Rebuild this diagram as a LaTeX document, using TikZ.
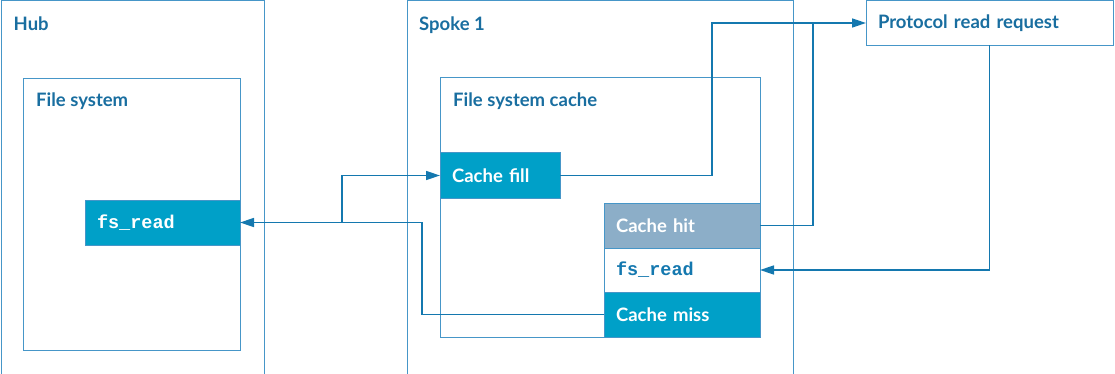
\documentclass[tikz,border=0pt]{standalone}
\usepackage{fontspec}
\setmainfont{Lato}
\setmonofont{Liberation Mono}
\usetikzlibrary{arrows.meta, positioning}

\definecolor{frameblue}{RGB}{70,150,200}
\definecolor{titleblue}{RGB}{25,110,160}
\definecolor{stepfill}{RGB}{0,160,200}
\definecolor{hitfill}{RGB}{140,174,200}
\definecolor{wireblue}{RGB}{20,120,175}

\begin{document}
\begin{tikzpicture}[
        x=1pt, y=-1pt,
        frame/.style = {rectangle, draw=frameblue, line width=1pt, anchor=north west, inner sep=0pt},
        title/.style = {anchor=base west, inner sep=0pt, text=titleblue, font=\fontsize{18.5}{20}\selectfont\bfseries},
        block/.style = {rectangle, draw=frameblue, line width=1pt, fill=stepfill, text=white, anchor=north west, inner xsep=12pt, inner ysep=0pt, outer sep=0pt, align=left, minimum height=45pt, font=\fontsize{18.5}{20}\selectfont\bfseries},
        code/.style = {font=\fontsize{18.5}{20}\selectfont\ttfamily\bfseries},
        wire/.style = {draw=wireblue, line width=1.6pt},
        tip/.style = {-{Triangle[length=14pt, width=9pt]}}
    ]
        \useasboundingbox (0,0) rectangle (1115,374);

        % Hub side
        \node [frame, minimum width=263pt, minimum height=373pt] (hub) at (0.5,0.5) {};
        \node [title] at ([shift={(13,30)}]hub.north west) {Hub};
        \node [frame, minimum width=217pt, minimum height=272pt] (hubfs) at (23,78) {};
        \node [title] at ([shift={(13,29)}]hubfs.north west) {File system};
        \node [block, text width=131pt, code] (hubread) at (85,200) {fs\_read};

        % Spoke side
        \node [frame, minimum width=386pt, minimum height=373pt] (spoke) at (407,0.5) {};
        \node [title] at ([shift={(12,30)}]spoke.north west) {Spoke 1};
        \node [frame, minimum width=320pt, minimum height=260pt] (cache) at (440,77) {};
        \node [title] at ([shift={(13,30)}]cache.north west) {File system cache};
        \node [block, text width=96pt] (fill) at (440,153) {Cache fill};
        \node [block, text width=132pt, fill=hitfill] (hit) at (604,203) {Cache hit};
        \node [block, text width=132pt, fill=white, text=wireblue, code, below=0pt of hit.south west, anchor=north west, minimum height=44pt] (spokeread) {fs\_read};
        \node [block, text width=132pt, below=0pt of spokeread.south west, anchor=north west] (miss) {Cache miss};

        % Remote request
        \node [block, text width=223pt, fill=white, text=titleblue] (proto) at (866,0.5) {Protocol read request};

        % Connections
        \coordinate (split) at ([xshift=102pt]hubread.east);
        \draw [wire, tip] (miss.west) -- ++(-182,0) |- (hubread.east);
        \draw [wire, tip] (split) |- (fill.west);
        \draw [wire, tip] (fill.east) -- ++(152,0) |- (proto.west);
        \draw [wire] (hit.east) -| ([xshift=-53pt]proto.west);
        \draw [wire, tip] (proto.south) |- (spokeread.east);

    \end{tikzpicture}
\end{document}
